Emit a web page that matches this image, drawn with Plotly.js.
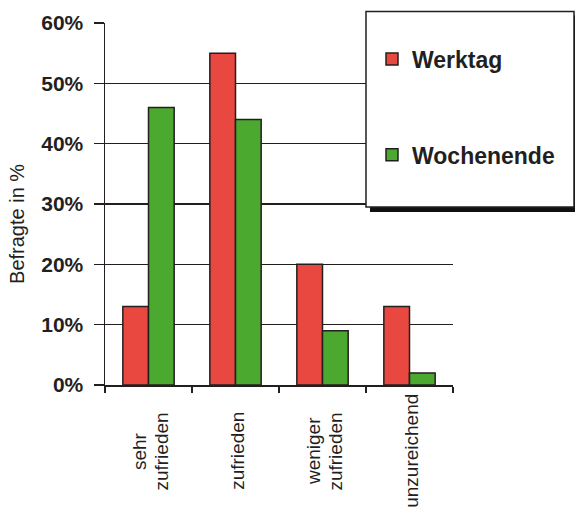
<!DOCTYPE html>
<html>
<head>
<meta charset="utf-8">
<script src="https://cdn.plot.ly/plotly-3.0.1.min.js"></script>
<style>html,body{margin:0;padding:0;background:#fff}</style>
</head>
<body>
<div id="chart" style="width:575px;height:524px"></div>
<script>
const categories = ["sehr zufrieden", "zufrieden", "weniger zufrieden", "unzureichend"];
const categoryLabelLines = [["sehr", "zufrieden"], ["zufrieden"], ["weniger", "zufrieden"], ["unzureichend"]];
const werktag = [13, 55, 20, 13];
const wochenende = [46, 44, 9, 2];
const seriesNames = ["Werktag", "Wochenende"];
const yTickVals = [0, 10, 20, 30, 40, 50, 60];
const yTickText = ["0%", "10%", "20%", "30%", "40%", "50%", "60%"];
const yTitle = "Befragte in %";

const FONT = "Arial, 'Liberation Sans', sans-serif";
const INK = "#231f1f";
const W = 575, H = 524;
const M = {l: 105, r: 122, t: 22.5, b: 138.5};
const pw = W - M.l - M.r, ph = H - M.t - M.b;
const px = x => (x - M.l) / pw;
const py = y => (H - M.b - y) / ph;

const traces = [
  {type: "bar", name: seriesNames[0], x: categories, y: werktag, legendgroup: "a",
   marker: {color: "#e8483f", line: {color: INK, width: 1.5}}},
  {type: "bar", name: seriesNames[1], x: categories, y: wochenende, legendgroup: "b",
   marker: {color: "#4ca92f", line: {color: INK, width: 1.5}}}
];

const LINE_GAP = 21.5;
const annotations = [];
categories.forEach((c, i) => {
  const lines = categoryLabelLines[i];
  lines.forEach((t, j) => {
    annotations.push({
      x: c, xref: "x", y: py(452), yref: "paper",
      xshift: (j - (lines.length - 1) / 2) * LINE_GAP + 2,
      text: t, showarrow: false, textangle: -90,
      xanchor: "center", yanchor: "middle",
      font: {family: FONT, size: 19, color: INK}
    });
  });
});
annotations.push({
  x: px(17), xref: "paper", y: py(224), yref: "paper",
  text: yTitle, showarrow: false, textangle: -90,
  xanchor: "center", yanchor: "middle",
  font: {family: FONT, size: 20, color: INK}
});

const layout = {
  width: W, height: H,
  margin: M,
  paper_bgcolor: "#fff", plot_bgcolor: "#fff",
  barmode: "group", bargap: 0.41, bargroupgap: 0,
  font: {family: FONT, color: INK},
  xaxis: {
    type: "category", showticklabels: false,
    showline: true, linecolor: INK, linewidth: 1.5,
    ticks: "outside", tickson: "boundaries", ticklen: 6, tickwidth: 1.5, tickcolor: INK,
    showgrid: false, zeroline: false, fixedrange: true
  },
  yaxis: {
    range: [0, 60], tickvals: yTickVals, ticktext: yTickText,
    showline: true, linecolor: INK, linewidth: 1.5,
    ticks: "outside", ticklen: 10, tickwidth: 1.5, tickcolor: INK,
    ticklabelstandoff: 6,
    showgrid: true, gridcolor: INK, gridwidth: 1.5, zeroline: false,
    tickfont: {family: FONT, size: 21, color: INK, weight: "bold"}
  },
  showlegend: true,
  legend: {
    x: px(372), xanchor: "left", y: py(37), yanchor: "top",
    bgcolor: "rgba(0,0,0,0)", borderwidth: 0,
    traceorder: "grouped", tracegroupgap: 63,
    font: {family: FONT, size: 23, color: INK, weight: "bold"}
  },
  shapes: [
    {type: "rect", xref: "paper", yref: "paper", x0: px(370), x1: px(580), y0: py(15), y1: py(212),
     fillcolor: "#111", line: {width: 0}, layer: "above"},
    {type: "rect", xref: "paper", yref: "paper", x0: px(366), x1: px(574), y0: py(11), y1: py(207),
     fillcolor: "#fff", line: {color: INK, width: 1.5}, layer: "above"}
  ],
  annotations: annotations
};

Plotly.newPlot("chart", traces, layout, {displayModeBar: false, staticPlot: true});
</script>
</body>
</html>
